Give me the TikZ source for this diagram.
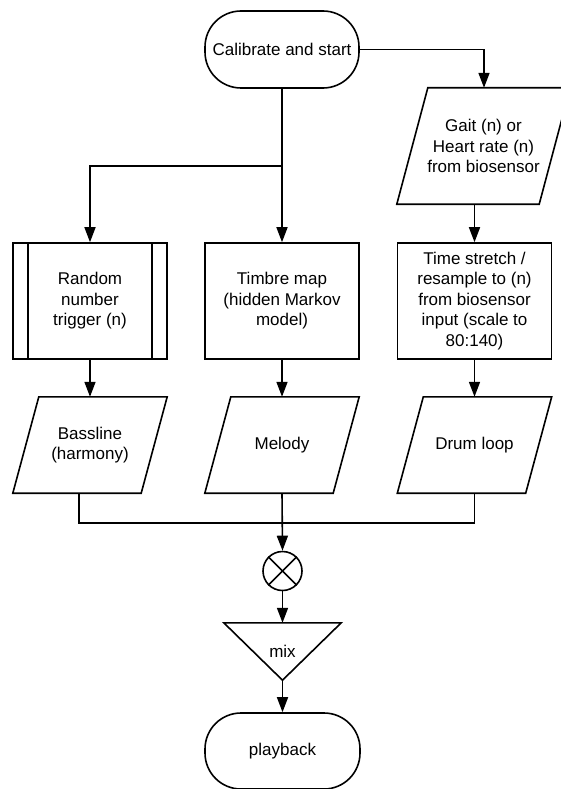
\documentclass[tikz,border=0pt]{standalone}
\usepackage{fontspec}
\setmainfont{Liberation Sans}
\usepackage{tikz}
\usetikzlibrary{calc}
\usetikzlibrary{arrows.meta}

\begin{document}
\begin{tikzpicture}[x=1pt,y=-1pt,font=\fontsize{17}{20.5}\selectfont]
\tikzstyle{box}=[rectangle,align=center,draw,line width=1.6pt,minimum width=154pt,minimum height=116pt,inner sep=0pt]
\tikzstyle{term}=[rectangle,rounded corners=36pt,align=center,draw,line width=1.6pt,minimum width=154pt,minimum height=77pt]
\tikzstyle{io}=[rectangle,align=center,minimum width=154pt,minimum height=96pt,inner sep=0pt]
\tikzstyle{arr}=[line width=1.6pt,-{Triangle[length=15pt,width=11pt]}]
\tikzstyle{link}=[line width=1.6pt]
\useasboundingbox (0, 0) rectangle (560, 789);

\node[term] at(282, 49.5) (start) {Calibrate and start};
\node[io,minimum width=173pt,minimum height=116pt] at(483.5, 146) (gait) {Gait (n) or\\
                         Heart rate (n)\\
                         from biosensor};
\node[box] at(90, 301) (rand) {Random\\ number\\ trigger (n)};
\node[box] at(282, 301) (timbre) {Timbre map\\ (hidden Markov\\ model)};
\node[box] at(474.5, 301) (ts) {Time stretch /\\ resample to (n)\\ from biosensor\\
                         input (scale to\\ 80:140)};
\node[io] at(90, 445) (bass) {Bassline\\ (harmony)};
\node[io] at(282, 445) (mel) {Melody};
\node[io] at(474.5, 445) (drum) {Drum loop};
\node[circle,draw,line width=1.6pt,minimum size=39pt,inner sep=0pt] at(282.5, 571) (x) {};
\node[minimum width=117pt,minimum height=57pt,inner sep=0pt] at(282.5, 651.5) (mix) {mix};
\node[term,minimum width=155pt,minimum height=76pt] at(282.5, 751) (play) {playback};

% parallelograms for data
\foreach \n/\s in {gait/31,bass/26,mel/26,drum/26}
  \draw[link,line join=miter] ([xshift=\s pt]\n.north west) -- (\n.north east)
    -- ([xshift=-\s pt]\n.south east) -- (\n.south west) -- cycle;
% side bars of the predefined process
\draw[link] ([xshift=16pt]rand.north west) -- ([xshift=16pt]rand.south west);
\draw[link] ([xshift=-16pt]rand.north east) -- ([xshift=-16pt]rand.south east);
% summing junction and mixer
\draw[link] (x.north west) -- (x.south east);
\draw[link] (x.north east) -- (x.south west);
\draw[link,line join=miter] (mix.north west) -- (mix.north east) -- (mix.south) -- cycle;

\coordinate (br) at(282, 166);
\coordinate (j) at(282, 523);
\draw[arr] (start.east) -| ([xshift=0.5pt]gait.north);
\draw[arr] (start.south) -- (timbre.north);
\draw[arr] (br) -| (rand.north);
\draw[arr] (gait.south -| ts.north) -- (ts.north);
\draw[arr] (rand.south) -- (bass.north);
\draw[arr] (timbre.south) -- (mel.north);
\draw[arr] (ts.south) -- (drum.north);
\draw[link] ([xshift=-11pt]bass.south) |- (j) -| (drum.south);
\draw[arr] (mel.south) -- (x.north);
\draw[arr] (x.south) -- (mix.north);
\draw[arr] (mix.south) -- (play.north);
\end{tikzpicture}
\end{document}
